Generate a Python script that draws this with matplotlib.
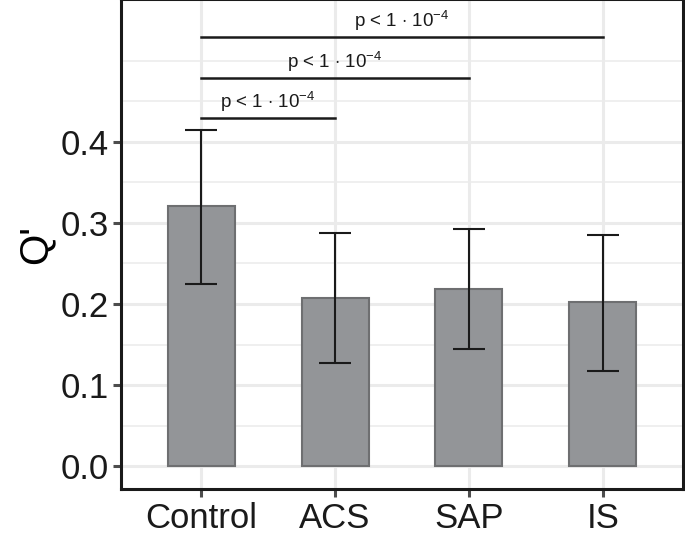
import numpy as np
import matplotlib
matplotlib.use("Agg")
import matplotlib.pyplot as plt

plt.rcParams['font.family'] = ['Liberation Sans', 'DejaVu Sans']
plt.rcParams['mathtext.fontset'] = 'custom'
plt.rcParams['mathtext.rm'] = 'Liberation Sans'
plt.rcParams['mathtext.it'] = 'Liberation Sans'

### values
groups = ["Control", "ACS", "SAP", "IS"]
means = [0.321, 0.208, 0.219, 0.202]
err_low = [0.225, 0.127, 0.144, 0.118]
err_high = [0.415, 0.287, 0.293, 0.285]

### significance brackets: (group a, group b, height)
sig_pairs = [(0, 1, 0.429), (0, 2, 0.479), (0, 3, 0.529)]
sig_label = r"p < 1 $\cdot$ 10$^{\mathrm{-4}}$"

fig = plt.figure(figsize=(6.85, 5.35), dpi=100)
ax = fig.add_axes([121/685, 46/535, (683-121)/685, (535-46+1)/535])

x = np.arange(1, len(groups) + 1)

ax.set_axisbelow(True)
ax.bar(x, means, width=0.5, color="#939598", edgecolor="#6e6f71", linewidth=1.5, zorder=2)

lo = np.array(means) - np.array(err_low)
hi = np.array(err_high) - np.array(means)
ax.errorbar(x, means, yerr=[lo, hi], fmt="none", ecolor="#1a1a1a",
            elinewidth=1.5, capsize=11.5, capthick=1.5, zorder=3)

for a, b, h in sig_pairs:
    ax.plot([x[a], x[b]], [h, h], color="#1a1a1a", lw=1.8, zorder=3)
    ax.annotate(sig_label, xy=((x[a] + x[b]) / 2, h), xytext=(0, 3),
                textcoords="offset points", ha="center", va="bottom",
                fontsize=13.5, color="#1a1a1a")

ax.set_xlim(0.4, 4.6)
ax.set_ylim(-0.028, 0.576)
ax.set_xticks(x)
ax.set_xticklabels(groups, fontsize=25)
ax.set_yticks([0.0, 0.1, 0.2, 0.3, 0.4])
ax.set_yticklabels(["0.0", "0.1", "0.2", "0.3", "0.4"], fontsize=25)
ax.set_yticks([0.05, 0.15, 0.25, 0.35, 0.45, 0.5], minor=True)

ax.grid(True, which="major", color="#ebebeb", lw=2.2)
ax.grid(True, which="minor", axis="y", color="#ebebeb", lw=1.1)
ax.tick_params(which="major", length=6, width=2.2, color="#4d4d4d", labelcolor="#1a1a1a", pad=3)
ax.tick_params(which="minor", length=0)

for s in ax.spines.values():
    s.set_linewidth(2.2)
    s.set_color("#1a1a1a")

ax.set_ylabel("Q'", fontsize=29, labelpad=4)

fig.savefig("out.png", dpi=100)
